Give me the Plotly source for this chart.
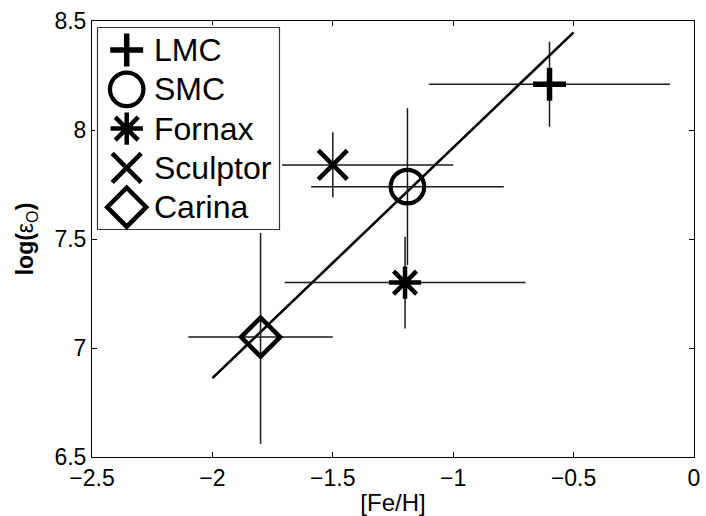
import plotly.graph_objects as go

# ---------------- data ----------------
names = ["LMC", "SMC", "Fornax", "Sculptor", "Carina"]
feh = [-0.6, -1.19, -1.2, -1.5, -1.8]
feh_err = [0.5, 0.4, 0.5, 0.5, 0.3]
log_eps = [8.21, 7.74, 7.30, 7.84, 7.05]
log_eps_err = [0.195, 0.36, 0.21, 0.15, 0.49]
fit_x = [-2.0, -0.5]
fit_y = [6.862, 8.448]
x_ticks = [-2.5, -2.0, -1.5, -1.0, -0.5, 0.0]
x_ticklabels = ["\u22122.5", "\u22122", "\u22121.5", "\u22121", "\u22120.5", "0"]
y_ticks = [6.5, 7.0, 7.5, 8.0, 8.5]
y_ticklabels = ["6.5", "7", "7.5", "8", "8.5"]

# ---------------- styles ----------------
symbols = ["cross-thin-open", "circle-open", "asterisk-open", "x-thin-open", "diamond-open"]
sizes = [23.5, 33.5, 27, 29, 30]
widths = [5.5, 4.2, 4.5, 4.5, 4.5]

FONT = "Liberation Sans, Arial, sans-serif"
W, H = 706, 516
L, R, T, B = 92, 12, 21, 59
PW, PH = W - L - R, H - T - B

fig = go.Figure()

fig.add_trace(go.Scatter(x=fit_x, y=fit_y, mode="lines",
                         line=dict(color="black", width=2.6),
                         showlegend=False, hoverinfo="skip"))

for i, n in enumerate(names):
    fig.add_trace(go.Scatter(
        x=[feh[i]], y=[log_eps[i]], mode="markers", name=n, showlegend=False,
        marker=dict(symbol=symbols[i], size=sizes[i], color="black",
                    line=dict(color="black", width=widths[i])),
        error_x=dict(type="data", array=[feh_err[i]], color="#1a1a1a", thickness=1.5, width=0),
        error_y=dict(type="data", array=[log_eps_err[i]], color="#1a1a1a", thickness=1.5, width=0),
        cliponaxis=False,
    ))

# ---------------- manual legend on an overlay axis in pixel units ----------------
lx0, lx1, ly0, ly1 = 95.0, 282.0, 25.0, 233.0     # overlay region (figure px)
bx0, bx1, by0, by1 = 97.5, 279.5, 27.5, 229.5     # legend box (figure px)
sym_x = 126.7
txt_x = 152.0
item_y = [50.0 + 39.3 * i for i in range(len(names))]

fig.add_trace(go.Scatter(
    x=[bx0, bx1, bx1, bx0, bx0], y=[by0, by0, by1, by1, by0],
    mode="lines", fill="toself", fillcolor="white",
    line=dict(color="#333333", width=1.2),
    xaxis="x2", yaxis="y2", showlegend=False, hoverinfo="skip"))

for i, n in enumerate(names):
    fig.add_trace(go.Scatter(
        x=[sym_x], y=[item_y[i]], mode="markers", xaxis="x2", yaxis="y2",
        marker=dict(symbol=symbols[i], size=sizes[i], color="black",
                    line=dict(color="black", width=widths[i])),
        showlegend=False, hoverinfo="skip", cliponaxis=False))
    fig.add_annotation(x=txt_x, y=item_y[i], xref="x2", yref="y2", text=n,
                       showarrow=False, xanchor="left", yanchor="middle",
                       font=dict(family=FONT, size=32, color="black"))

axis_common = dict(showgrid=False, zeroline=False, showline=True, linecolor="black",
                   linewidth=1, mirror="ticks", ticks="inside", ticklen=5,
                   tickcolor="black", tickwidth=1,
                   tickfont=dict(family=FONT, size=23, color="black"))

fig.update_layout(
    width=W, height=H,
    margin=dict(l=L, r=R, t=T, b=B, autoexpand=False),
    paper_bgcolor="white", plot_bgcolor="white",
    showlegend=False,
    xaxis=dict(range=[-2.5, 0], tickvals=x_ticks, ticktext=x_ticklabels,
               title=dict(text="[Fe/H]", font=dict(family=FONT, size=24, color="black"), standoff=4),
               automargin=False, **axis_common),
    yaxis=dict(range=[6.5, 8.5], tickvals=y_ticks, ticktext=y_ticklabels,
               title=dict(text="<b>log(</b>\u03b5<sub>O</sub><b>)</b>",
                          font=dict(family=FONT, size=23, color="black"), standoff=14),
               automargin=False, **axis_common),
    xaxis2=dict(domain=[(lx0 - L) / PW, (lx1 - L) / PW], range=[lx0, lx1],
                anchor="y2", visible=False, fixedrange=True),
    yaxis2=dict(domain=[(H - B - ly1) / PH, (H - B - ly0) / PH], range=[ly1, ly0],
                anchor="x2", visible=False, fixedrange=True),
)

fig.write_html("out.html", config={"displayModeBar": False},
               post_script="document.body.style.margin='0';document.body.style.padding='0';")
